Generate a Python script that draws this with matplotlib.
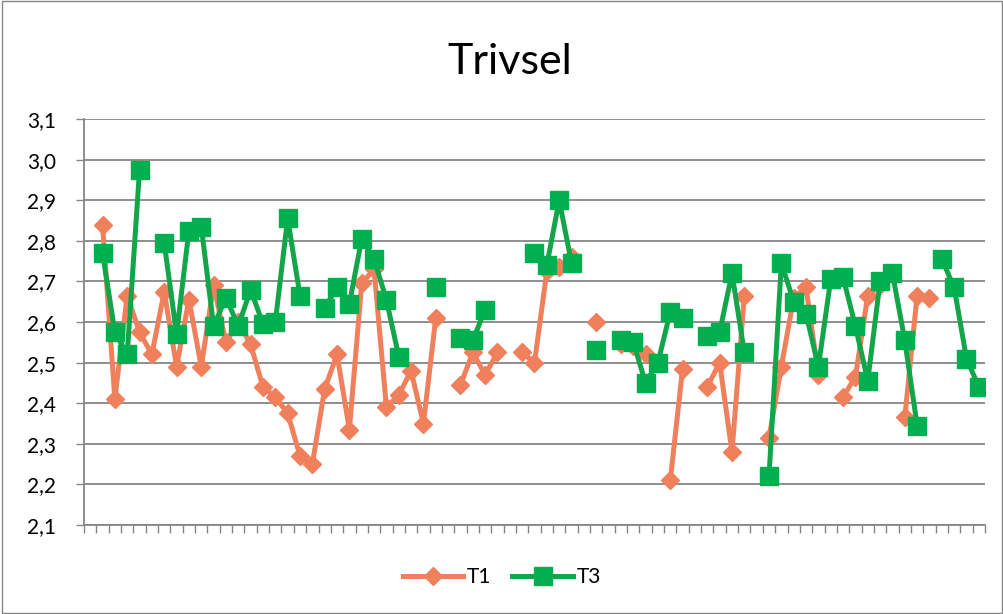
import numpy as np
import matplotlib.pyplot as plt
from matplotlib.patches import Rectangle

nan = np.nan

# one value per category (73 categories), nan = no answer
t1 = [nan, 2.84, 2.41, 2.665, 2.575, 2.52, 2.675, 2.49, 2.655, 2.49,
      2.69, 2.55, 2.60, 2.545, 2.44, 2.415, 2.375, 2.27, 2.25, 2.435,
      2.52, 2.335, 2.695, 2.73, 2.39, 2.42, 2.48, 2.35, 2.61, nan,
      2.445, 2.525, 2.47, 2.525, nan, 2.525, 2.50, 2.725, 2.735, 2.76,
      nan, 2.60, nan, 2.545, 2.54, 2.52, nan, 2.21, 2.485, nan,
      2.44, 2.50, 2.28, 2.665, nan, 2.315, 2.49, 2.66, 2.685, 2.47,
      nan, 2.415, 2.465, 2.665, 2.69, nan, 2.365, 2.665, 2.66, nan,
      nan, nan, nan]

t3 = [nan, 2.77, 2.575, 2.52, 2.975, nan, 2.795, 2.57, 2.825, 2.835,
      2.59, 2.66, 2.59, 2.68, 2.595, 2.60, 2.855, 2.665, nan, 2.635,
      2.685, 2.645, 2.805, 2.755, 2.655, 2.515, nan, nan, 2.685, nan,
      2.56, 2.555, 2.63, nan, nan, nan, 2.77, 2.74, 2.90, 2.745,
      nan, 2.53, nan, 2.555, 2.55, 2.45, 2.50, 2.625, 2.61, nan,
      2.565, 2.575, 2.72, 2.525, nan, 2.22, 2.745, 2.65, 2.62, 2.49,
      2.705, 2.71, 2.59, 2.455, 2.70, 2.72, 2.555, 2.345, nan, 2.755,
      2.685, 2.51, 2.44]

yticks = [2.1, 2.2, 2.3, 2.4, 2.5, 2.6, 2.7, 2.8, 2.9, 3.0, 3.1]

plt.rcParams['font.family'] = ['Lato', 'DejaVu Sans']

n = len(t1)
x = np.arange(n) + 0.5

fig = plt.figure(figsize=(10.04, 6.14), dpi=100)
ax = fig.add_axes([84 / 1004, 89 / 614, 901 / 1004, 406 / 614])

grid_col = '#868686'
ax.plot(x, t1, color='#F07F5C', lw=3.6, marker='D', markersize=9, label='T1', zorder=3)
ax.plot(x, t3, color='#12A54A', lw=3.6, marker='s', markersize=13,
        markerfacecolor='#00B050', markeredgecolor='#00B050', label='T3', zorder=4)

ax.set_xlim(0, n)
ax.set_ylim(2.1, 3.1)
ax.set_yticks(yticks)
ax.set_yticklabels(['{:.1f}'.format(v).replace('.', ',') for v in yticks], fontsize=15)
ax.set_xticks(np.arange(n + 1))
ax.set_xticklabels([])
ax.tick_params(axis='x', length=6, width=1, color=grid_col, direction='out')
ax.tick_params(axis='y', length=6, width=1, color=grid_col, direction='out', pad=14)
ax.yaxis.grid(True, color=grid_col, lw=1.3)
ax.set_axisbelow(True)
for s in ['top', 'right']:
    ax.spines[s].set_visible(False)
for s in ['left', 'bottom']:
    ax.spines[s].set_color(grid_col)
    ax.spines[s].set_linewidth(1.3)

fig.text(0.508, 0.88, 'Trivsel', ha='center', va='baseline', fontsize=31)

fig.legend(loc='center', bbox_to_anchor=(0.5, 0.06), ncol=2, frameon=False,
           fontsize=15, handlelength=2.9, columnspacing=1.0, handletextpad=0.2)

fig.patches.append(Rectangle((0.002, 0.002), 0.996, 0.996, transform=fig.transFigure,
                             fill=False, edgecolor=grid_col, lw=1))

plt.savefig('out.png')
